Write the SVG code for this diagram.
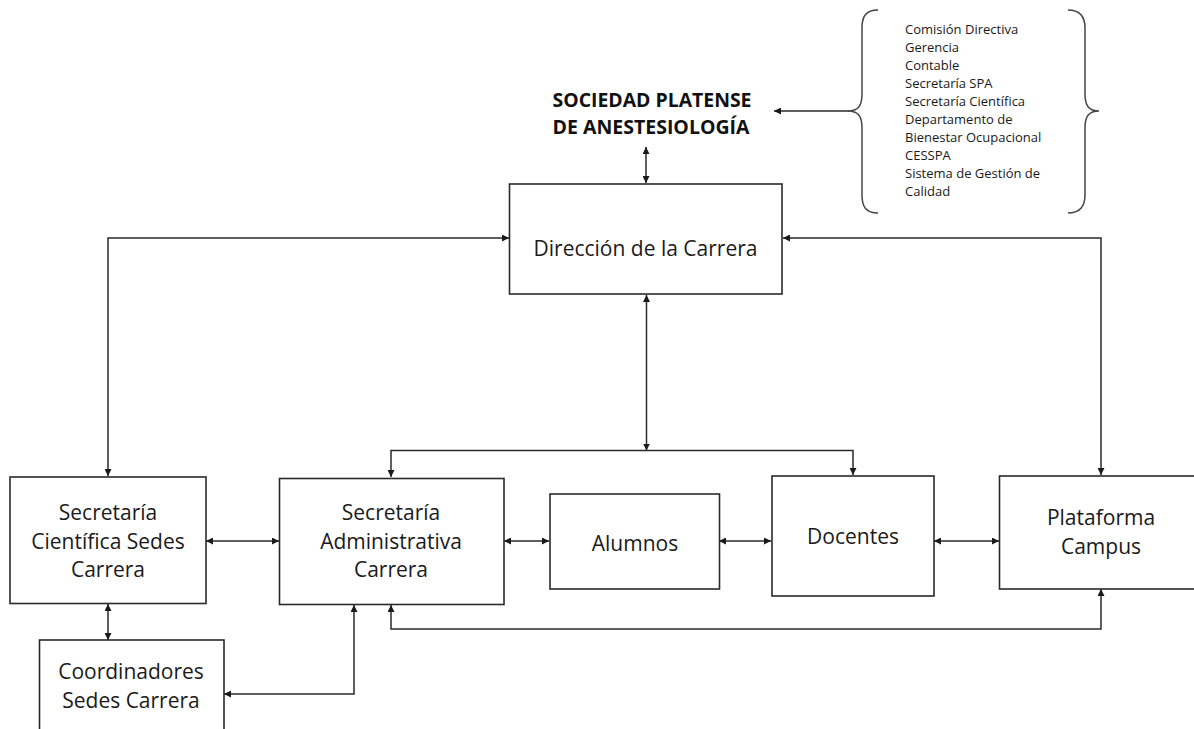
<svg xmlns="http://www.w3.org/2000/svg" width="1194" height="729" viewBox="0 0 1194 729">
<defs>
<marker id="ah" viewBox="0 0 10 10" refX="10" refY="5" markerWidth="7" markerHeight="7" markerUnits="userSpaceOnUse" orient="auto-start-reverse">
<path d="M0,0 L10,5 L0,10 z" fill="#1a1a1a"/>
</marker>
<style>
.box{fill:#fff;stroke:#2a2a2a;stroke-width:1.6}
.lbl{font-family:"Open Sans","Liberation Sans",sans-serif;font-size:21px;fill:#1a1a1a;text-anchor:middle}
.title{font-family:"Open Sans","Liberation Sans",sans-serif;font-size:20px;font-weight:bold;fill:#111;text-anchor:middle}
.list{font-family:"Open Sans","Liberation Sans",sans-serif;font-size:13px;fill:#1a1a1a}
.con{fill:none;stroke:#2a2a2a;stroke-width:1.5;marker-start:url(#ah);marker-end:url(#ah)}
.one{fill:none;stroke:#2a2a2a;stroke-width:1.5;marker-end:url(#ah)}
.brace{fill:none;stroke:#444;stroke-width:1.5}
</style>
</defs>
<rect width="1194" height="729" fill="#fff"/>

<g id="connectors">
<path class="con" d="M646,147 V183"/>
<path class="one" d="M849,111 H774"/>
<path class="con" d="M509,238 H108 V476"/>
<path class="con" d="M783,238 H1101 V475"/>
<path class="con" d="M646.5,295 V450.5"/>
<path class="con" d="M391,477 V450.5 H853 V475"/>
<path class="con" d="M206,541 H279"/>
<path class="con" d="M504,541 H549"/>
<path class="con" d="M719,541 H771"/>
<path class="con" d="M934,541 H999"/>
<path class="con" d="M108,604 V640"/>
<path class="con" d="M224,694 H354 V605"/>
<path class="con" d="M391,605 V629 H1101 V589"/>
</g>

<g id="sociedad">
<text class="title" x="652" y="106.5" textLength="199" lengthAdjust="spacingAndGlyphs">SOCIEDAD PLATENSE</text>
<text class="title" x="651" y="134" textLength="197" lengthAdjust="spacingAndGlyphs">DE ANESTESIOLOGÍA</text>
</g>

<g id="organos">
<path class="brace" d="M878,10 C866,10 862,16 862,28 V94 C862,106 858,111 848,111 C858,111 862,116 862,128 V195 C862,207 866,213 878,213"/>
<path class="brace" d="M1068,10 C1080,10 1085,16 1085,28 V94 C1085,106 1089,111 1099,111 C1089,111 1085,116 1085,128 V195 C1085,207 1080,213 1068,213"/>
<text class="list" x="905" y="34">Comisión Directiva</text>
<text class="list" x="905" y="52">Gerencia</text>
<text class="list" x="905" y="70">Contable</text>
<text class="list" x="905" y="88">Secretaría SPA</text>
<text class="list" x="905" y="106">Secretaría Científica</text>
<text class="list" x="905" y="124">Departamento de</text>
<text class="list" x="905" y="142">Bienestar Ocupacional</text>
<text class="list" x="905" y="160">CESSPA</text>
<text class="list" x="905" y="178">Sistema de Gestión de</text>
<text class="list" x="905" y="196">Calidad</text>
</g>

<g id="direccion">
<rect class="box" x="509.5" y="184" width="272.5" height="110"/>
<text class="lbl" x="645.5" y="256">Dirección de la Carrera</text>
</g>

<g id="sec-cientifica">
<rect class="box" x="10" y="477" width="196" height="126.5"/>
<text class="lbl" x="108" y="520">Secretaría</text>
<text class="lbl" x="108" y="548.5">Científica Sedes</text>
<text class="lbl" x="108" y="577">Carrera</text>
</g>

<g id="sec-administrativa">
<rect class="box" x="279.5" y="478.5" width="224.5" height="126"/>
<text class="lbl" x="391" y="520">Secretaría</text>
<text class="lbl" x="391" y="548.5">Administrativa</text>
<text class="lbl" x="391" y="577">Carrera</text>
</g>

<g id="alumnos">
<rect class="box" x="550" y="494" width="169.5" height="95"/>
<text class="lbl" x="635" y="551">Alumnos</text>
</g>

<g id="docentes">
<rect class="box" x="772" y="476" width="162" height="120"/>
<text class="lbl" x="853" y="544">Docentes</text>
</g>

<g id="plataforma">
<rect class="box" x="999.5" y="476" width="204" height="113"/>
<text class="lbl" x="1101" y="525">Plataforma</text>
<text class="lbl" x="1101" y="553.5">Campus</text>
</g>

<g id="coordinadores">
<rect class="box" x="39.5" y="640" width="184.5" height="100"/>
<text class="lbl" x="131" y="679">Coordinadores</text>
<text class="lbl" x="131" y="708">Sedes Carrera</text>
</g>
</svg>
